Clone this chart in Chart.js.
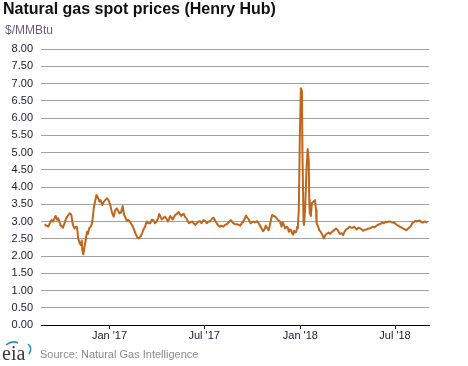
<!DOCTYPE html>
<html><head><meta charset="utf-8">
<script src="https://cdn.jsdelivr.net/npm/chart.js@4/dist/chart.umd.min.js"></script>
<style>
html,body{margin:0;padding:0;background:#fff;}
#wrap{position:relative;width:468px;height:366px;overflow:hidden;font-family:"Liberation Sans",Arial,sans-serif;}
#c{position:absolute;left:0;top:0;}
#title{position:absolute;left:3px;top:0px;font-weight:bold;font-size:16px;color:#111;white-space:nowrap;}
#unit{position:absolute;left:5px;top:23px;font-size:12px;color:#6b5b86;white-space:nowrap;}
#src{position:absolute;left:40px;top:348px;font-size:11px;color:#8a8a8a;white-space:nowrap;}
#logo{position:absolute;left:2px;top:340px;width:34px;height:24px;}
</style></head>
<body><div id="wrap">
<canvas id="c" width="468" height="366"></canvas>
<div id="title">Natural gas spot prices (Henry Hub)</div>
<div id="unit">$/MMBtu</div>
<div id="logo"><svg width="34" height="24" viewBox="0 0 34 24">
<text x="0" y="20" font-family="Liberation Serif, DejaVu Serif, serif" font-size="20" fill="#3a3a3a">eia</text>
<path d="M4 5 Q10 0 16 3" stroke="#2a8ad0" stroke-width="1.6" fill="none"/>
<path d="M26 4 Q31 8 27 14" stroke="#2a8ad0" stroke-width="1.6" fill="none"/>
</svg></div>
<div id="src">Source: Natural Gas Intelligence</div>
</div>
<script>
const AXIS_START = '2016-08-23';
const AXIS_END = '2018-09-04';
const TICK_DATES = ['2017-01-01','2017-07-01','2018-01-01','2018-07-01'];
const TICK_LABELS = ["Jan '17","Jul '17","Jan '18","Jul '18"];
const Y_TICKS = [0,0.5,1,1.5,2,2.5,3,3.5,4,4.5,5,5.5,6,6.5,7,7.5,8];

const dates = [
'2016-08-30','2016-09-02','2016-09-06','2016-09-09','2016-09-12','2016-09-15','2016-09-18','2016-09-20','2016-09-23','2016-09-25',
'2016-09-29','2016-10-04','2016-10-07','2016-10-10','2016-10-14','2016-10-17','2016-10-20','2016-10-23','2016-10-26','2016-10-29',
'2016-10-31','2016-11-02','2016-11-05','2016-11-07','2016-11-09','2016-11-10','2016-11-12','2016-11-14','2016-11-16','2016-11-19',
'2016-11-21','2016-11-23','2016-11-26','2016-11-28','2016-11-30','2016-12-02','2016-12-04','2016-12-07','2016-12-09','2016-12-11',
'2016-12-13','2016-12-15','2016-12-18','2016-12-21','2016-12-24','2016-12-27','2016-12-30','2017-01-02','2017-01-04','2017-01-06',
'2017-01-09','2017-01-12','2017-01-15','2017-01-18','2017-01-20','2017-01-23','2017-01-26','2017-01-29','2017-02-01','2017-02-03',
'2017-02-06','2017-02-10','2017-02-13','2017-02-16','2017-02-18','2017-02-20','2017-02-23','2017-02-25','2017-02-28','2017-03-02',
'2017-03-04','2017-03-07','2017-03-10','2017-03-13','2017-03-16','2017-03-20','2017-03-23','2017-03-26','2017-03-29','2017-04-01',
'2017-04-04','2017-04-06','2017-04-09','2017-04-11','2017-04-14','2017-04-17','2017-04-20','2017-04-23','2017-04-27','2017-04-30',
'2017-05-02','2017-05-05','2017-05-07','2017-05-10','2017-05-13','2017-05-15','2017-05-18','2017-05-21','2017-05-23','2017-05-26',
'2017-05-28','2017-05-31','2017-06-02','2017-06-05','2017-06-08','2017-06-11','2017-06-14','2017-06-17','2017-06-20','2017-06-23',
'2017-06-26','2017-06-30','2017-07-03','2017-07-06','2017-07-09','2017-07-12','2017-07-16','2017-07-19','2017-07-22','2017-07-25',
'2017-07-28','2017-07-31','2017-08-03','2017-08-07','2017-08-10','2017-08-13','2017-08-17','2017-08-21','2017-08-24','2017-08-26',
'2017-08-29','2017-09-02','2017-09-05','2017-09-08','2017-09-11','2017-09-14','2017-09-17','2017-09-19','2017-09-21','2017-09-24',
'2017-09-26','2017-09-28','2017-10-01','2017-10-03','2017-10-06','2017-10-10','2017-10-13','2017-10-16','2017-10-18','2017-10-22',
'2017-10-25','2017-10-27','2017-10-30','2017-11-01','2017-11-03','2017-11-05','2017-11-08','2017-11-11','2017-11-14','2017-11-18',
'2017-11-21','2017-11-23','2017-11-26','2017-11-28','2017-11-30','2017-12-03','2017-12-06','2017-12-08','2017-12-10','2017-12-12',
'2017-12-14','2017-12-16','2017-12-18','2017-12-20','2017-12-22','2017-12-24','2017-12-26','2017-12-27','2017-12-29','2017-12-31',
'2018-01-02','2018-01-04','2018-01-05','2018-01-07','2018-01-08','2018-01-10','2018-01-13','2018-01-15','2018-01-17','2018-01-18',
'2018-01-19','2018-01-21','2018-01-23','2018-01-26','2018-01-29','2018-01-31','2018-02-01','2018-02-04','2018-02-06','2018-02-09',
'2018-02-12','2018-02-14','2018-02-15','2018-02-17','2018-02-19','2018-02-22','2018-02-24','2018-02-27','2018-03-01','2018-03-04',
'2018-03-07','2018-03-10','2018-03-13','2018-03-16','2018-03-18','2018-03-21','2018-03-24','2018-03-27','2018-03-30','2018-04-02',
'2018-04-05','2018-04-08','2018-04-11','2018-04-14','2018-04-17','2018-04-19','2018-04-22','2018-04-25','2018-04-28','2018-05-01',
'2018-05-04','2018-05-08','2018-05-11','2018-05-14','2018-05-17','2018-05-20','2018-05-23','2018-05-26','2018-05-29','2018-06-01',
'2018-06-04','2018-06-07','2018-06-10','2018-06-13','2018-06-16','2018-06-19','2018-06-22','2018-06-25','2018-06-28','2018-07-01',
'2018-07-04','2018-07-07','2018-07-10','2018-07-13','2018-07-16','2018-07-19','2018-07-22','2018-07-25','2018-07-28','2018-07-31',
'2018-08-03','2018-08-06','2018-08-09','2018-08-12','2018-08-15','2018-08-18','2018-08-21','2018-08-24','2018-08-27','2018-08-30',
'2018-09-01'
];
const prices = [
2.92,2.88,2.85,2.95,3.04,3.00,3.10,3.16,3.05,3.09,
2.90,2.82,2.95,3.09,3.18,3.24,3.19,2.90,2.80,2.85,
2.83,2.51,2.37,2.32,2.45,2.17,2.05,2.25,2.42,2.70,
2.65,2.80,2.85,2.92,3.10,3.40,3.55,3.77,3.72,3.65,
3.58,3.62,3.48,3.57,3.62,3.67,3.62,3.50,3.38,3.25,
3.14,3.33,3.38,3.30,3.24,3.26,3.45,3.19,3.10,3.02,
3.05,2.97,2.90,2.80,2.72,2.64,2.55,2.51,2.55,2.58,
2.65,2.77,2.85,3.00,2.95,2.95,3.05,3.04,2.95,3.00,
3.10,3.22,3.12,3.06,3.10,3.14,3.08,3.00,3.16,3.10,
3.06,3.15,3.19,3.22,3.28,3.22,3.16,3.20,3.22,3.12,
3.09,3.00,2.95,2.98,3.00,2.95,2.90,2.95,3.00,3.01,
2.95,3.04,3.02,2.95,3.00,3.00,3.08,3.11,3.02,2.95,
2.88,2.85,2.88,2.85,2.90,2.92,2.98,3.04,2.98,2.95,
2.92,2.92,2.90,2.88,2.95,3.00,3.10,3.17,3.12,3.07,
3.00,2.95,2.98,3.00,2.97,3.01,2.95,2.88,2.82,2.72,
2.80,2.88,2.80,2.75,2.85,3.00,3.19,3.16,3.14,3.07,
3.02,3.00,2.85,2.98,2.92,2.80,2.85,2.82,2.70,2.77,
2.75,2.66,2.62,2.73,2.68,2.70,2.85,2.80,3.33,5.46,
6.86,6.78,4.98,2.99,2.90,3.33,4.59,5.10,4.78,3.62,
3.24,3.16,3.53,3.57,3.62,3.33,2.95,2.85,2.75,2.70,
2.61,2.55,2.51,2.58,2.63,2.66,2.68,2.64,2.68,2.72,
2.75,2.80,2.76,2.68,2.64,2.66,2.61,2.72,2.78,2.80,
2.85,2.82,2.82,2.85,2.80,2.77,2.82,2.80,2.78,2.73,
2.76,2.77,2.80,2.80,2.83,2.85,2.83,2.87,2.90,2.92,
2.94,2.97,2.95,2.99,2.98,3.00,3.00,2.97,2.97,2.95,
2.90,2.88,2.85,2.83,2.80,2.78,2.75,2.78,2.82,2.86,
2.95,2.98,3.02,3.00,3.03,3.02,2.98,2.97,3.00,2.98,
2.97
];

function dayNum(s){const p=s.split('-').map(Number);return Date.UTC(p[0],p[1]-1,p[2])/86400000;}
const points = dates.map((d,i)=>({x:dayNum(d),y:prices[i]}));
const tickVals = TICK_DATES.map(dayNum);

new Chart(document.getElementById('c'),{
  type:'line',
  data:{datasets:[{data:points,borderColor:'#bf651c',borderWidth:2,pointRadius:0,tension:0,fill:false,borderJoinStyle:'round'}]},
  options:{
    responsive:false,animation:false,
    layout:{padding:{left:0,right:39,top:49,bottom:0}},
    plugins:{legend:{display:false},tooltip:{enabled:false}},
    scales:{
      x:{type:'linear',min:dayNum(AXIS_START),max:dayNum(AXIS_END),
        afterBuildTicks:(s)=>{s.ticks=tickVals.map(v=>({value:v}));},
        afterFit:(s)=>{s.height=41;},
        grid:{drawOnChartArea:false,drawTicks:true,tickLength:4,color:'#000'},
        border:{display:true,color:'#000',width:1},
        ticks:{autoSkip:false,maxRotation:0,padding:0,color:'#1a1a33',font:{family:'"Liberation Sans", Arial, sans-serif',size:11},
          callback:(v)=>{const i=tickVals.indexOf(v);return i>=0?TICK_LABELS[i]:'';}}
      },
      y:{min:0,max:8,
        afterBuildTicks:(s)=>{s.ticks=Y_TICKS.map(v=>({value:v}));},
        afterFit:(s)=>{s.width=41;},
        grid:{drawTicks:false,color:(c)=>c.tick&&c.tick.value===0?'#000':'#a0a0a0',lineWidth:1},
        border:{display:false},
        ticks:{padding:8,color:'#1a1a33',font:{family:'"Liberation Sans", Arial, sans-serif',size:11},callback:(v)=>Number(v).toFixed(2)}
      }
    }
  }
});
</script>
</body></html>
